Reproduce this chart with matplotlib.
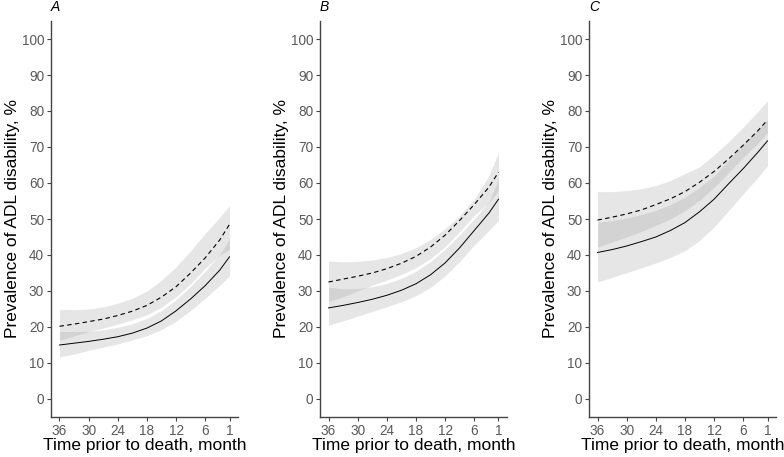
import matplotlib.pyplot as plt
import numpy as np

plt.rcParams['font.family'] = ['Liberation Sans', 'DejaVu Sans']

months = [36, 33, 30, 27, 24, 21, 18, 15, 12, 9, 6, 3, 1]
xticks = [36, 30, 24, 18, 12, 6, 1]
yticks = list(range(0, 101, 10))
panel_names = ['A', 'B', 'C']

# panel A
a_solid = [15.0, 15.5, 16.0, 16.6, 17.3, 18.3, 19.7, 21.7, 24.5, 27.8, 31.5, 35.8, 39.5]
a_solid_lo = [11.7, 12.5, 13.5, 14.4, 15.3, 16.4, 17.6, 19.3, 21.6, 24.6, 28.0, 31.6, 34.2]
a_solid_hi = [18.8, 18.7, 18.8, 19.2, 19.9, 20.9, 22.4, 24.6, 27.6, 31.3, 35.5, 40.2, 44.5]
a_dash = [20.2, 20.8, 21.5, 22.2, 23.2, 24.4, 26.0, 28.3, 31.2, 35.0, 39.2, 44.2, 48.5]
a_dash_lo = [16.3, 17.5, 18.7, 19.7, 20.8, 22.0, 23.4, 25.5, 28.4, 32.0, 36.3, 40.0, 41.5]
a_dash_hi = [24.9, 24.8, 25.0, 25.6, 26.6, 28.0, 30.0, 33.0, 36.7, 41.2, 46.0, 50.5, 53.7]

# panel B
b_solid = [25.3, 26.0, 26.8, 27.7, 28.8, 30.2, 32.0, 34.5, 37.8, 42.0, 46.8, 51.6, 55.5]
b_solid_lo = [20.5, 21.7, 23.0, 24.3, 25.6, 27.0, 28.7, 31.0, 34.2, 38.2, 42.7, 46.8, 49.6]
b_solid_hi = [31.1, 30.6, 30.7, 31.2, 32.1, 33.5, 35.5, 38.2, 41.6, 45.6, 50.0, 54.7, 61.1]
b_dash = [32.5, 33.3, 34.1, 35.0, 36.2, 37.7, 39.6, 42.2, 45.5, 49.6, 54.0, 58.8, 63.0]
b_dash_lo = [27.0, 28.4, 30.0, 31.6, 33.0, 34.6, 36.5, 39.0, 42.3, 46.5, 51.0, 54.5, 57.9]
b_dash_hi = [38.3, 38.1, 38.2, 38.6, 39.3, 40.4, 42.0, 44.3, 47.3, 51.0, 55.5, 62.0, 68.5]

# panel C
c_solid = [40.7, 41.5, 42.5, 43.7, 45.0, 46.8, 49.0, 52.0, 55.5, 59.8, 64.0, 68.5, 71.7]
c_solid_lo = [32.5, 33.8, 35.1, 36.4, 37.8, 39.3, 41.2, 44.0, 47.8, 52.3, 57.0, 61.5, 64.8]
c_solid_hi = [49.1, 49.5, 50.3, 51.2, 52.4, 54.0, 56.0, 58.8, 62.0, 66.3, 70.8, 74.8, 77.5]
c_dash = [49.7, 50.5, 51.4, 52.5, 54.0, 55.6, 57.6, 60.2, 63.2, 66.7, 70.5, 74.5, 77.5]
c_dash_lo = [42.2, 43.6, 45.0, 46.5, 48.2, 50.0, 52.3, 55.2, 58.8, 62.9, 67.1, 71.0, 74.0]
c_dash_hi = [57.6, 57.6, 57.9, 58.4, 59.3, 60.7, 62.6, 64.5, 67.8, 71.5, 75.5, 79.8, 82.8]

panels = [
    (a_solid, a_solid_lo, a_solid_hi, a_dash, a_dash_lo, a_dash_hi),
    (b_solid, b_solid_lo, b_solid_hi, b_dash, b_dash_lo, b_dash_hi),
    (c_solid, c_solid_lo, c_solid_hi, c_dash, c_dash_lo, c_dash_hi),
]

fig = plt.figure(figsize=(7.84, 4.57), dpi=100)
lefts = [51, 320, 589]
W, H = 784.0, 457.0

for i, (name, p) in enumerate(zip(panel_names, panels)):
    s, slo, shi, d, dlo, dhi = p
    ax = fig.add_axes([lefts[i] / W, 1 - 417 / H, 187 / W, 396 / H])
    ax.fill_between(months, slo, shi, color='#999999', alpha=0.24, lw=0)
    ax.fill_between(months, dlo, dhi, color='#999999', alpha=0.24, lw=0)
    ax.plot(months, s, color='black', lw=0.7)
    ax.plot(months, d, color='black', lw=0.8, ls=(0, (4, 3)))
    ax.set_xlim(37.75, -0.75)
    ax.set_ylim(-5, 105)
    ax.set_xticks(xticks)
    ax.set_yticks(yticks)
    for sp in ['top', 'right']:
        ax.spines[sp].set_visible(False)
    for sp in ['left', 'bottom']:
        ax.spines[sp].set_color('#444444')
        ax.spines[sp].set_linewidth(1.0)
    ax.tick_params(colors='#444444', labelcolor='#5a5a5a', labelsize=9.8,
                   length=3, width=0.8, pad=2)
    ax.set_xlabel('Time prior to death, month', fontsize=12.5, labelpad=0)
    ax.set_ylabel('Prevalence of ADL disability, %', fontsize=12.5, labelpad=1)
    ax.annotate(name, xy=(0, 1), xycoords='axes fraction', xytext=(0, 5),
                textcoords='offset points', fontsize=10, style='italic',
                ha='left', va='bottom')

fig.savefig('out.png', dpi=100)
